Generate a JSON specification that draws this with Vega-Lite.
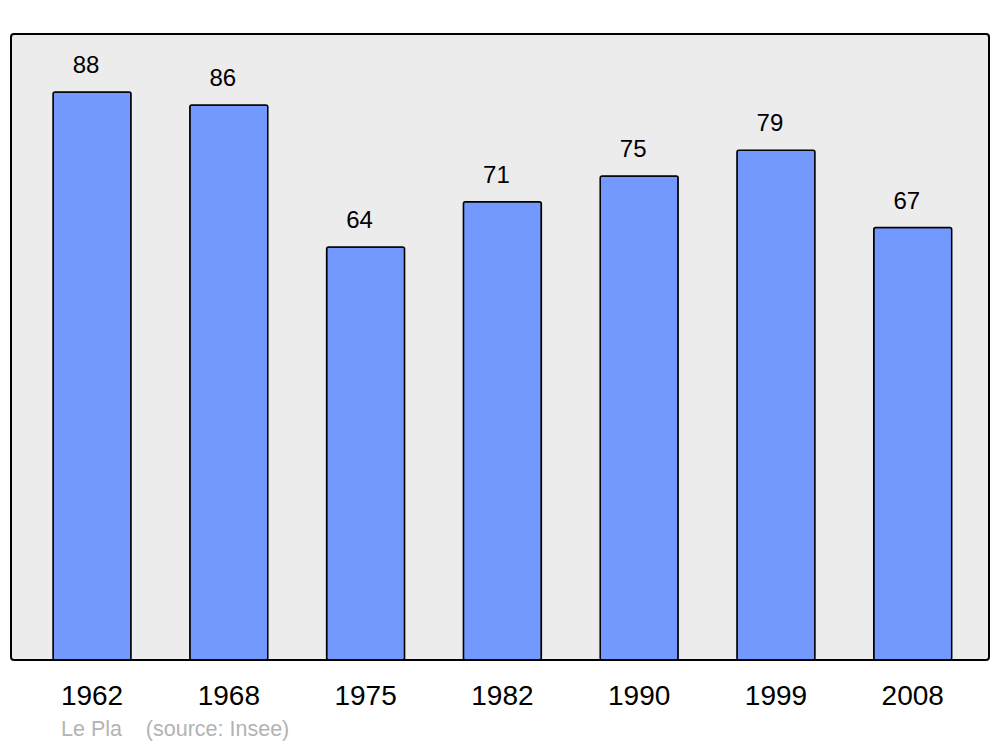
{
  "$schema": "https://vega.github.io/schema/vega-lite/v6.json",
  "width": 978,
  "height": 626,
  "autosize": {"type": "none"},
  "padding": {"left": 11, "top": 34, "right": 11, "bottom": 87},
  "background": "white",
  "config": {
    "font": "Liberation Sans",
    "view": {"fill": "#ececec", "stroke": "#000000", "strokeWidth": 2, "cornerRadius": 3}
  },
  "title": {
    "text": "Le Pla\u00a0\u00a0\u00a0\u00a0(source: Insee)",
    "orient": "bottom",
    "anchor": "start",
    "frame": "group",
    "dx": 50,
    "offset": 9,
    "fontSize": 21.5,
    "fontWeight": "normal",
    "color": "#b3b3b3",
    "font": "Liberation Sans"
  },
  "data": {
    "values": [
      {"year": "1962", "pop": 88},
      {"year": "1968", "pop": 86},
      {"year": "1975", "pop": 64},
      {"year": "1982", "pop": 71},
      {"year": "1990", "pop": 75},
      {"year": "1999", "pop": 79},
      {"year": "2008", "pop": 67}
    ]
  },
  "encoding": {
    "x": {
      "field": "year",
      "type": "nominal",
      "sort": null,
      "scale": {"paddingInner": 0.43, "paddingOuter": 0.29, "align": 0.53},
      "axis": {
        "title": null,
        "domain": false,
        "ticks": false,
        "labelAngle": 0,
        "labelFontSize": 28,
        "labelColor": "#000000",
        "labelPadding": 22,
        "labelDx": -2,
        "labelFont": "Liberation Sans"
      }
    },
    "y": {
      "field": "pop",
      "type": "quantitative",
      "scale": {"domain": [0, 97], "nice": false, "zero": true},
      "axis": null
    }
  },
  "layer": [
    {
      "mark": {"type": "bar", "fill": "#7399ff", "stroke": "#000000", "strokeWidth": 1.5, "cornerRadius": 2}
    },
    {
      "mark": {"type": "text", "baseline": "alphabetic", "dx": -6, "dy": -19, "fontSize": 24, "color": "#000000", "font": "Liberation Sans"},
      "encoding": {"text": {"field": "pop", "type": "quantitative"}}
    }
  ]
}
